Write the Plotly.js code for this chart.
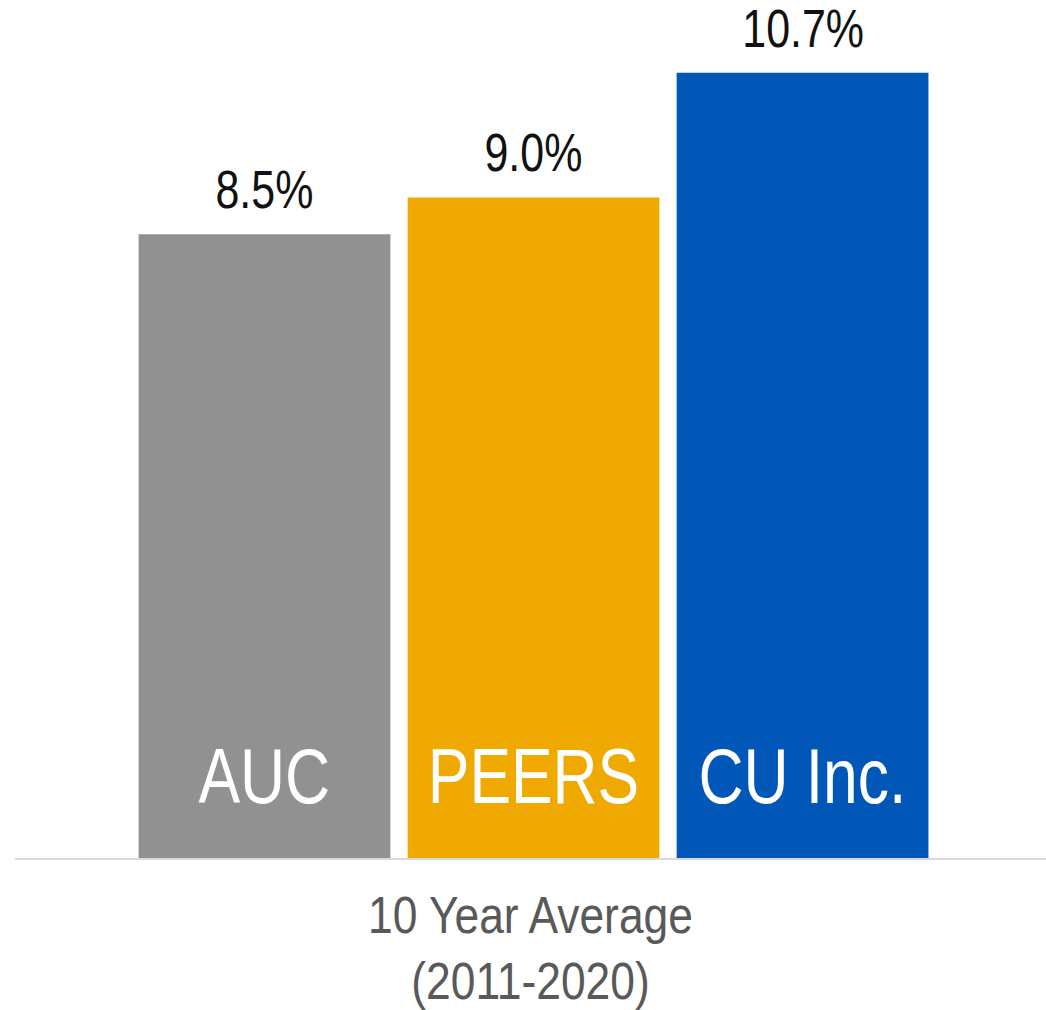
<!DOCTYPE html>
<html>
<head>
<meta charset="utf-8">
<script src="https://cdn.plot.ly/plotly-3.0.1.min.js"></script>
<style>
  html, body { margin: 0; padding: 0; background: #ffffff; }
  #graph { width: 1046px; height: 1010px; }
  /* the source uses a narrow face; squeeze the texts a little */
  #graph .annotation-text { transform-box: fill-box; transform-origin: 50% 50%; transform: scaleX(0.81); }
  #graph .xtitle { transform-box: fill-box; transform-origin: 50% 50%; transform: scaleX(0.87); }
</style>
</head>
<body>
<div id="graph"></div>
<script>
var groups = ["AUC", "PEERS", "CU Inc."]; /* bar names, drawn inside the bars */
var averages = [8.5, 9.0, 10.7]; /* 10 year average, percent */
var barColors = ["#919191", "#f0a900", "#0057b8"];
var axisTitle = "10 Year Average<br>(2011-2020)";

var fontName = "'Liberation Sans', Arial, sans-serif";

function drawGraph() {
    var bars = {
        x: groups,
        y: averages,
        type: "bar",
        marker: { color: barColors, line: { width: 0 } },
        hoverinfo: "x+y",
        showlegend: false
    };

    var notes = [];
    /* value labels sitting above each bar */
    for (var i = 0; i < groups.length; i++) {
        notes.push({
            x: groups[i],
            y: averages[i],
            text: averages[i].toFixed(1) + "%",
            showarrow: false,
            yanchor: "bottom",
            yshift: 13,
            font: { family: fontName, size: 53, color: "#111111" }
        });
    }
    /* names written near the foot of each bar */
    for (i = 0; i < groups.length; i++) {
        notes.push({
            x: groups[i],
            y: 0,
            text: groups[i],
            showarrow: false,
            yanchor: "bottom",
            yshift: 37,
            font: { family: fontName, size: 77, color: "#ffffff" }
        });
    }

    var layout = {
        width: 1046,
        height: 1010,
        margin: { l: 15, r: 0, t: 14, b: 152 },
        paper_bgcolor: "#ffffff",
        plot_bgcolor: "#ffffff",
        bargap: 0.064,
        font: { family: fontName },
        xaxis: {
            type: "category",
            range: [-0.9275, 2.905],
            showticklabels: false,
            ticks: "",
            showgrid: false,
            zeroline: false,
            showline: true,
            linecolor: "#d9d9d9",
            linewidth: 2,
            title: {
                text: axisTitle,
                standoff: 63,
                font: { family: fontName, size: 51, color: "#595959" }
            }
        },
        yaxis: {
            range: [0, 11.5],
            visible: false,
            showgrid: false,
            zeroline: false
        },
        annotations: notes
    };

    Plotly.newPlot("graph", [bars], layout, { displayModeBar: false, staticPlot: true });
}
drawGraph();
</script>
</body>
</html>
